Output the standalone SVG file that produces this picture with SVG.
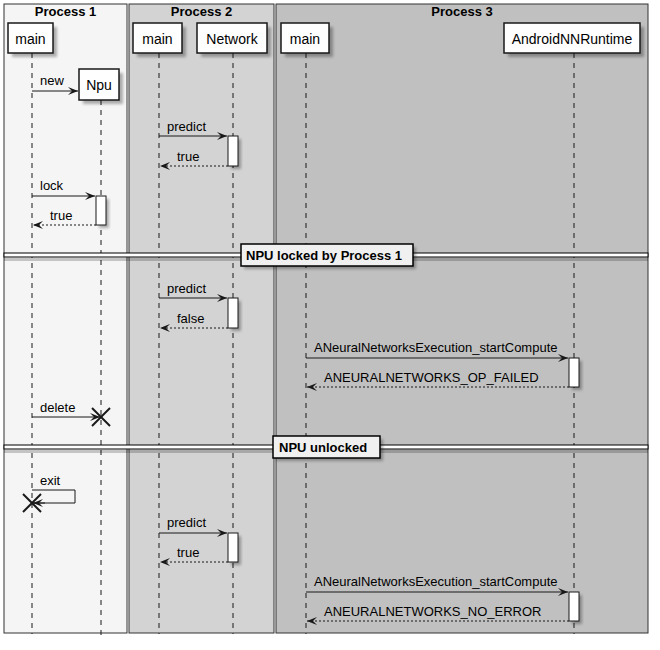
<svg xmlns="http://www.w3.org/2000/svg" width="660" height="650" viewBox="0 0 660 650">
<defs>
<style>
.box{stroke:#333;stroke-width:1}
.hdr{font-family:"Liberation Sans",Arial,sans-serif;font-size:13px;font-weight:bold;fill:#000;text-anchor:middle}
.part rect.b{fill:#FEFEFE;stroke:#181818;stroke-width:1.5}
.sh{fill:#000;opacity:0.3;filter:url(#blur)}
.pt{font-family:"Liberation Sans",Arial,sans-serif;font-size:14px;fill:#000;text-anchor:middle}
.life{stroke:#181818;stroke-width:1;stroke-dasharray:5,5;fill:none}
.msg{stroke:#181818;stroke-width:1;fill:none}
.ret{stroke:#181818;stroke-width:1;fill:none;stroke-dasharray:2,2}
.ml{font-family:"Liberation Sans",Arial,sans-serif;font-size:13px;fill:#000}
.act{fill:#FFFFFF;stroke:#181818;stroke-width:1}
.sep{font-family:"Liberation Sans",Arial,sans-serif;font-size:13px;font-weight:bold;fill:#000}
.x{stroke:#181818;stroke-width:2}
</style>
<filter id="blur" x="-20%" y="-20%" width="140%" height="140%">
<feGaussianBlur stdDeviation="1.5"/>
</filter>
<marker id="ah" viewBox="0 0 10 8" refX="10" refY="4" markerWidth="10" markerHeight="8" markerUnits="userSpaceOnUse" orient="auto">
<polygon points="0,0 10,4 0,8 4,4" fill="#181818"/>
</marker>
</defs>
<rect x="0" y="0" width="660" height="650" fill="#FFFFFF"/>

<g id="boxes">
<rect class="box" x="4" y="4" width="123" height="629" fill="#F5F5F5"/>
<rect class="box" x="129" y="4" width="145" height="629" fill="#D3D3D3"/>
<rect class="box" x="276" y="4" width="372" height="629" fill="#C0C0C0"/>
<text class="hdr" x="65.5" y="16">Process 1</text>
<text class="hdr" x="201.5" y="16">Process 2</text>
<text class="hdr" x="462" y="16">Process 3</text>
</g>

<g id="lifelines">
<line class="life" x1="32" y1="53" x2="32" y2="634"/>
<line class="life" x1="101" y1="100" x2="101" y2="637"/>
<line class="life" x1="159" y1="53" x2="159" y2="634"/>
<line class="life" x1="233" y1="53" x2="233" y2="634"/>
<line class="life" x1="306" y1="53" x2="306" y2="634"/>
<line class="life" x1="574" y1="53" x2="574" y2="634"/>
</g>

<g id="p1main" class="part">
<rect class="sh" x="12" y="27" width="45" height="30"/>
<rect class="b" x="8" y="23" width="45" height="30"/>
<text class="pt" x="30.5" y="43.5">main</text>
</g>
<g id="npu" class="part">
<rect class="sh" x="83" y="73" width="40" height="31"/>
<rect class="b" x="79" y="69" width="40" height="31"/>
<text class="pt" x="99" y="89.5">Npu</text>
</g>
<g id="p2main" class="part">
<rect class="sh" x="137" y="27" width="49" height="30"/>
<rect class="b" x="133" y="23" width="49" height="30"/>
<text class="pt" x="157.5" y="43.5">main</text>
</g>
<g id="network" class="part">
<rect class="sh" x="201" y="27" width="70" height="30"/>
<rect class="b" x="197" y="23" width="70" height="30"/>
<text class="pt" x="232" y="43.5">Network</text>
</g>
<g id="p3main" class="part">
<rect class="sh" x="285" y="27" width="48" height="30"/>
<rect class="b" x="281" y="23" width="48" height="30"/>
<text class="pt" x="305" y="43.5">main</text>
</g>
<g id="nnruntime" class="part">
<rect class="sh" x="508" y="27" width="136" height="30"/>
<rect class="b" x="504" y="23" width="136" height="30"/>
<text class="pt" x="572" y="43.5">AndroidNNRuntime</text>
</g>

<g id="activations">
<rect class="sh" x="231" y="139" width="10" height="30"/>
<rect class="act" x="228" y="136" width="10" height="30"/>
<rect class="sh" x="99" y="199" width="10" height="29"/>
<rect class="act" x="96" y="196" width="10" height="29"/>
<rect class="sh" x="231" y="301" width="10" height="30"/>
<rect class="act" x="228" y="298" width="10" height="30"/>
<rect class="sh" x="572" y="361" width="10" height="29"/>
<rect class="act" x="569" y="358" width="10" height="29"/>
<rect class="sh" x="231" y="536" width="10" height="29"/>
<rect class="act" x="228" y="533" width="10" height="29"/>
<rect class="sh" x="572" y="595" width="10" height="29"/>
<rect class="act" x="569" y="592" width="10" height="29"/>
</g>

<g id="connectors">
<line class="msg" x1="32" y1="91" x2="78" y2="91" marker-end="url(#ah)"/>
<text class="ml" x="40" y="85">new</text>
<line class="msg" x1="159" y1="136" x2="227" y2="136" marker-end="url(#ah)"/>
<text class="ml" x="167" y="131">predict</text>
<line class="ret" x1="228" y1="166" x2="160" y2="166" marker-end="url(#ah)"/>
<text class="ml" x="177" y="161">true</text>
<line class="msg" x1="32" y1="196" x2="95" y2="196" marker-end="url(#ah)"/>
<text class="ml" x="40" y="190">lock</text>
<line class="ret" x1="96" y1="225" x2="33" y2="225" marker-end="url(#ah)"/>
<text class="ml" x="50" y="220">true</text>

<line class="msg" x1="159" y1="298" x2="227" y2="298" marker-end="url(#ah)"/>
<text class="ml" x="167" y="293">predict</text>
<line class="ret" x1="228" y1="328" x2="160" y2="328" marker-end="url(#ah)"/>
<text class="ml" x="177" y="323">false</text>
<line class="msg" x1="306" y1="358" x2="568" y2="358" marker-end="url(#ah)"/>
<text class="ml" x="314" y="352">ANeuralNetworksExecution_startCompute</text>
<line class="ret" x1="569" y1="387" x2="307" y2="387" marker-end="url(#ah)"/>
<text class="ml" x="324" y="382">ANEURALNETWORKS_OP_FAILED</text>
<line class="msg" x1="32" y1="417" x2="100" y2="417" marker-end="url(#ah)"/>
<text class="ml" x="40" y="412">delete</text>
<line class="x" x1="92" y1="408" x2="110" y2="426"/>
<line class="x" x1="92" y1="426" x2="110" y2="408"/>

<polyline class="msg" points="32,490 75,490 75,503 33,503"/>
<line class="msg" x1="45" y1="503" x2="33" y2="503" marker-end="url(#ah)"/>
<text class="ml" x="40" y="485">exit</text>
<line class="x" x1="23" y1="494" x2="41" y2="512"/>
<line class="x" x1="23" y1="512" x2="41" y2="494"/>
<line class="msg" x1="159" y1="533" x2="227" y2="533" marker-end="url(#ah)"/>
<text class="ml" x="167" y="527">predict</text>
<line class="ret" x1="228" y1="562" x2="160" y2="562" marker-end="url(#ah)"/>
<text class="ml" x="177" y="557">true</text>
<line class="msg" x1="306" y1="592" x2="568" y2="592" marker-end="url(#ah)"/>
<text class="ml" x="314" y="586">ANeuralNetworksExecution_startCompute</text>
<line class="ret" x1="569" y1="621" x2="307" y2="621" marker-end="url(#ah)"/>
<text class="ml" x="324" y="616">ANEURALNETWORKS_NO_ERROR</text>
</g>

<g id="sep1">
<rect x="4" y="258" width="644" height="3" fill="#000" opacity="0.2"/>
<rect x="4" y="253" width="644" height="4" fill="#FFFFFF" stroke="#000" stroke-width="1"/>
<rect class="sh" x="244" y="247" width="172" height="22"/>
<rect x="241" y="244" width="172" height="22" fill="#F0F0F0" stroke="#000" stroke-width="1.5"/>
<text class="sep" x="246" y="260">NPU locked by Process 1</text>
</g>
<g id="sep2">
<rect x="4" y="450" width="644" height="3" fill="#000" opacity="0.2"/>
<rect x="4" y="445" width="644" height="4" fill="#FFFFFF" stroke="#000" stroke-width="1"/>
<rect class="sh" x="276" y="439" width="107" height="22"/>
<rect x="273" y="436" width="107" height="22" fill="#F0F0F0" stroke="#000" stroke-width="1.5"/>
<text class="sep" x="279" y="452">NPU unlocked</text>
</g>
</svg>
